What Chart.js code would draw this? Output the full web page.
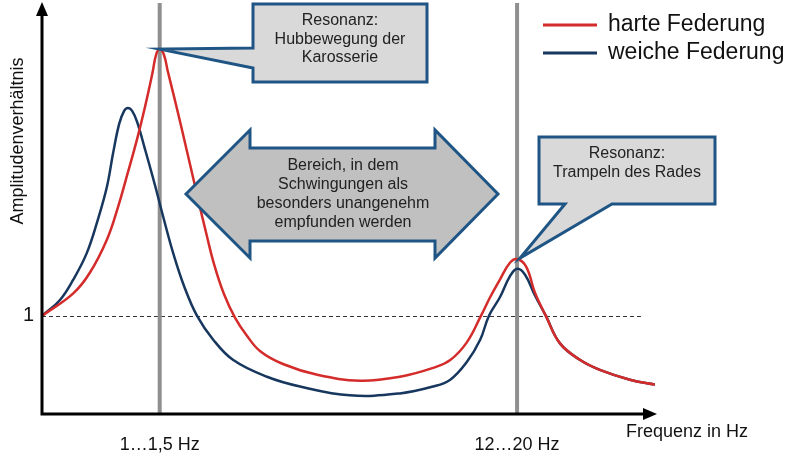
<!DOCTYPE html>
<html>
<head>
<meta charset="utf-8">
<script src="https://cdn.jsdelivr.net/npm/chart.js@4.4.1/dist/chart.umd.min.js"></script>
<style>
  body { margin: 0; background: #fff; }
</style>
</head>
<body>
<canvas id="ctx" width="800" height="460"></canvas>
<script>
// values (x: 0..100 along the frequency axis, y: amplitude ratio, 1 = dashed line)
const seriesNames = ['harte Federung', 'weiche Federung'];
const seriesColors = ['#d42b2b', '#17375e'];

const hardX = [0, 5.1, 7.8, 10.6, 12.4, 14.0, 15.5, 16.8, 18.0, 18.6, 19.2, 19.9, 20.5, 21.6, 22.9, 24.2, 25.5, 26.8, 28.1, 29.7, 31.5, 33.4, 35.6, 39.3, 44.9, 51.9, 58.4, 63.8, 66.6, 69.3, 71.6, 73.1, 74.7, 76.3, 77.5, 79.0, 80.4, 82.2, 84.5, 87.8, 91.0, 95.9, 100];
const hardY = [1.00, 1.23, 1.44, 1.78, 2.11, 2.46, 2.80, 3.13, 3.47, 3.66, 3.72, 3.66, 3.50, 3.22, 2.88, 2.53, 2.18, 1.84, 1.52, 1.22, 0.98, 0.80, 0.64, 0.51, 0.40, 0.34, 0.38, 0.47, 0.55, 0.73, 1.00, 1.19, 1.37, 1.54, 1.58, 1.50, 1.24, 1.00, 0.72, 0.55, 0.45, 0.35, 0.30];

const softX = [0, 2.9, 5.1, 7.3, 9.1, 10.6, 11.6, 12.6, 13.4, 14.0, 14.7, 15.5, 16.8, 18.4, 19.9, 21.4, 23.2, 25.3, 27.9, 31.2, 36.7, 42.1, 50.2, 58.4, 63.8, 66.6, 69.3, 71.5, 72.9, 74.7, 76.3, 77.5, 78.8, 80.4, 82.2, 84.5, 87.8, 91.0, 95.9, 100];
const softY = [1.00, 1.16, 1.37, 1.64, 1.98, 2.32, 2.66, 2.96, 3.09, 3.12, 3.09, 2.98, 2.70, 2.34, 1.98, 1.64, 1.30, 1.00, 0.76, 0.55, 0.38, 0.28, 0.19, 0.21, 0.28, 0.35, 0.53, 0.76, 1.00, 1.19, 1.40, 1.48, 1.42, 1.21, 1.00, 0.72, 0.55, 0.45, 0.35, 0.30];

const xTickValues = [19.2, 77.5];
const xTickLabels = ['1…1,5 Hz', '12…20 Hz'];
const yTickValues = [1];
const yTickLabels = ['1'];
const xTitle = 'Frequenz in Hz';
const yTitle = 'Amplitudenverhältnis';

const note1 = ['Resonanz:', 'Hubbewegung der', 'Karosserie'];
const note2 = ['Resonanz:', 'Trampeln des Rades'];
const arrowText = ['Bereich, in dem', 'Schwingungen als', 'besonders unangenehm', 'empfunden werden'];

const FONT = '"Liberation Sans", Arial, sans-serif';
const BLUE = '#1f5584';

function pts(xs, ys) {
  return xs.map((v, i) => ({ x: v, y: ys[i] }));
}

function lines(ctx, arr, cx, y0, step) {
  arr.forEach((t, i) => ctx.fillText(t, cx, y0 + i * step));
}

const deko = {
  id: 'deko',
  beforeDatasetsDraw(chart) {
    const { ctx, chartArea: a, scales: { x, y } } = chart;
    ctx.save();
    // dashed reference line at ratio 1
    const y1 = Math.round(y.getPixelForValue(1)) + 0.5;
    ctx.strokeStyle = '#333';
    ctx.lineWidth = 1;
    ctx.setLineDash([4, 3]);
    ctx.beginPath();
    ctx.moveTo(a.left, y1);
    ctx.lineTo(643, y1);
    ctx.stroke();
    ctx.setLineDash([]);
    // grey resonance markers
    ctx.strokeStyle = '#8f8f8f';
    ctx.lineWidth = 4;
    xTickValues.forEach(v => {
      const px = x.getPixelForValue(v);
      ctx.beginPath();
      ctx.moveTo(px, a.top);
      ctx.lineTo(px, a.bottom);
      ctx.stroke();
    });
    ctx.restore();
  },
  afterDatasetsDraw(chart) {
    const { ctx, chartArea: a, scales: { x, y } } = chart;
    ctx.save();

    // axes with arrow heads
    ctx.strokeStyle = '#000';
    ctx.fillStyle = '#000';
    ctx.lineWidth = 3;
    ctx.beginPath();
    ctx.moveTo(a.left, a.bottom + 1.5);
    ctx.lineTo(a.left, 14);
    ctx.moveTo(a.left - 1.5, a.bottom);
    ctx.lineTo(645, a.bottom);
    ctx.stroke();
    ctx.beginPath();
    ctx.moveTo(a.left, 2); ctx.lineTo(a.left - 6, 16); ctx.lineTo(a.left + 6, 16);
    ctx.closePath(); ctx.fill();
    ctx.beginPath();
    ctx.moveTo(657, a.bottom); ctx.lineTo(643, a.bottom - 6); ctx.lineTo(643, a.bottom + 6);
    ctx.closePath(); ctx.fill();

    // axis titles
    ctx.fillStyle = '#111';
    ctx.font = '18px ' + FONT;
    ctx.textAlign = 'left';
    ctx.textBaseline = 'middle';
    ctx.fillText(xTitle, 626, 432);
    ctx.save();
    ctx.translate(18, 141);
    ctx.rotate(-Math.PI / 2);
    ctx.textAlign = 'center';
    ctx.fillText(yTitle, 0, 0);
    ctx.restore();

    ctx.lineJoin = 'miter';
    ctx.lineWidth = 3;
    ctx.strokeStyle = BLUE;

    // double arrow
    ctx.fillStyle = '#c0c0c0';
    ctx.beginPath();
    ctx.moveTo(186, 194); ctx.lineTo(250, 130); ctx.lineTo(250, 148); ctx.lineTo(435, 148);
    ctx.lineTo(435, 130); ctx.lineTo(498, 194); ctx.lineTo(435, 258); ctx.lineTo(435, 241);
    ctx.lineTo(250, 241); ctx.lineTo(250, 258);
    ctx.closePath();
    ctx.fill(); ctx.stroke();

    // callout 1, pointing at the peak of the hard suspension
    const t1x = x.getPixelForValue(hardX[hardY.indexOf(Math.max(...hardY))]);
    const t1y = y.getPixelForValue(Math.max(...hardY));
    ctx.fillStyle = '#d9d9d9';
    ctx.beginPath();
    ctx.moveTo(253, 4); ctx.lineTo(427, 4); ctx.lineTo(427, 82); ctx.lineTo(253, 82);
    ctx.lineTo(253, 68); ctx.lineTo(t1x, t1y); ctx.lineTo(253, 48);
    ctx.closePath();
    ctx.fill(); ctx.stroke();

    // callout 2, pointing at the wheel-hop peak
    const t2x = x.getPixelForValue(xTickValues[1]) + 3;
    const t2y = y.getPixelForValue(1.58) - 1;
    ctx.beginPath();
    ctx.moveTo(539, 137); ctx.lineTo(715, 137); ctx.lineTo(715, 204); ctx.lineTo(612, 204);
    ctx.lineTo(t2x, t2y); ctx.lineTo(565, 204); ctx.lineTo(539, 204);
    ctx.closePath();
    ctx.fill(); ctx.stroke();

    // texts inside shapes
    ctx.fillStyle = '#222';
    ctx.font = '16px ' + FONT;
    ctx.textAlign = 'center';
    ctx.textBaseline = 'middle';
    lines(ctx, note1, 340, 21, 18.5);
    lines(ctx, note2, 627, 154, 19);
    lines(ctx, arrowText, 343, 166, 19);

    // legend
    ctx.font = '23px ' + FONT;
    ctx.textAlign = 'left';
    chart.data.datasets.forEach((ds, i) => {
      const ly = 25 + i * 28;
      ctx.strokeStyle = ds.borderColor;
      ctx.lineWidth = 3;
      ctx.beginPath();
      ctx.moveTo(543, ly); ctx.lineTo(597, ly);
      ctx.stroke();
      ctx.fillStyle = '#111';
      ctx.fillText(ds.label, 608, ly);
    });

    ctx.restore();
  }
};

const chart = new Chart(document.getElementById('ctx'), {
  type: 'line',
  data: {
    datasets: [
      { label: seriesNames[0], data: pts(hardX, hardY), borderColor: seriesColors[0] },
      { label: seriesNames[1], data: pts(softX, softY), borderColor: seriesColors[1] }
    ]
  },
  options: {
    responsive: false,
    animation: false,
    layout: { padding: { left: 0, top: 3, right: 145, bottom: 0 } },
    elements: {
      point: { radius: 0 },
      line: { borderWidth: 2.5, tension: 0.4, fill: false, borderJoinStyle: 'round' }
    },
    plugins: { legend: { display: false }, tooltip: { enabled: false } },
    scales: {
      x: {
        type: 'linear', min: 0, max: 100,
        grid: { display: false, drawTicks: false },
        border: { display: false },
        afterBuildTicks: s => { s.ticks = xTickValues.map(v => ({ value: v })); },
        afterFit: s => { s.height = 46; s.paddingLeft = 0; s.paddingRight = 0; },
        ticks: {
          autoSkip: false, maxRotation: 0, padding: 20, color: '#111',
          font: { family: FONT, size: 18 },
          callback: (v, i) => xTickLabels[i]
        }
      },
      y: {
        type: 'linear', min: 0, max: 4.19,
        grid: { display: false, drawTicks: false },
        border: { display: false },
        afterBuildTicks: s => { s.ticks = yTickValues.map(v => ({ value: v })); },
        afterFit: s => { s.width = 42; s.paddingTop = 0; s.paddingBottom = 0; },
        ticks: {
          autoSkip: false, padding: 8, color: '#111',
          font: { family: FONT, size: 20 },
          callback: (v, i) => yTickLabels[i]
        }
      }
    }
  },
  plugins: [deko]
});
</script>
</body>
</html>
